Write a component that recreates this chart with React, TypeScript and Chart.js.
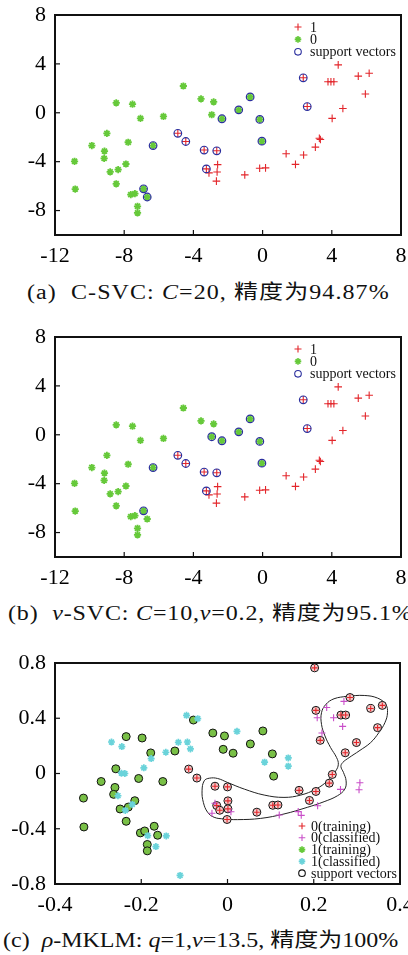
import React, { useEffect, useRef } from 'react';
import { Chart, registerables } from 'chart.js';

Chart.register(...registerables);

const SERIF = '"Liberation Serif", "Times New Roman", Tinos, serif';
const CAPTION_FONT = '"Liberation Serif", "Times New Roman", "Noto Sans CJK SC", serif';

// ---------------- panels (a) and (b) ----------------
const xTicksAB = [-12, -8, -4, 0, 4, 8];
const yTicksAB = [-8, -4, 0, 4, 8];
const xRangeAB = [-12, 8];
const yRangeAB = [-10, 8];

// class "1" (red +), not support vectors
const class1Plain = [
  [4.37, 3.92], [3.78, 2.54], [3.95, 2.54], [4.12, 2.54], [5.53, 3.0], [6.16, 3.24],
  [5.94, 1.54], [4.64, 0.35], [4.02, -0.46], [3.28, -2.08], [3.34, -2.19], [3.05, -2.81],
  [1.36, -3.35], [2.37, -3.46], [1.9, -4.22], [-0.17, -4.54], [0.17, -4.51], [-1.03, -5.08],
  [-2.6, -4.24], [-3.1, -4.92], [-2.63, -4.84], [-2.67, -5.59],
];
// class "1" support vectors
const class1SV = [
  [2.35, 2.86], [2.58, 0.51], [-4.9, -1.68], [-4.44, -2.35], [-3.38, -3.05], [-2.65, -3.11], [-3.25, -4.59],
];
// class "0" (green *), panel (a)
const class0PlainA = [
  [-4.58, 2.19], [-3.56, 1.14], [-2.83, 0.89], [-8.46, 0.81], [-7.52, 0.7], [-2.94, -0.16],
  [-7.06, -0.46], [-5.73, -0.3], [-9.0, -1.68], [-7.77, -2.41], [-9.87, -2.68], [-9.14, -3.14],
  [-9.16, -3.73], [-10.87, -3.97], [-7.9, -4.19], [-8.35, -4.65], [-8.81, -4.84], [-8.46, -5.81],
  [-10.83, -6.24], [-7.62, -6.7], [-7.38, -6.62], [-7.23, -7.65], [-7.23, -8.19],
];
const class0SVA = [
  [-6.33, -2.68], [-2.35, -0.49], [-6.88, -6.22], [-6.67, -6.89],
  [-0.72, 1.3], [-1.38, 0.24], [-0.16, -0.54], [-0.04, -2.32],
];
// class "0" (green *), panel (b)
const class0PlainB = [
  [-4.58, 2.19], [-3.56, 1.14], [-2.83, 0.89], [-8.46, 0.81], [-7.52, 0.7], [-6.67, -6.89],
  [-7.06, -0.46], [-5.73, -0.3], [-9.0, -1.68], [-7.77, -2.41], [-9.87, -2.68], [-9.14, -3.14],
  [-9.16, -3.73], [-10.87, -3.97], [-7.9, -4.19], [-8.35, -4.65], [-8.81, -4.84], [-8.46, -5.81],
  [-10.83, -6.24], [-7.62, -6.7], [-7.38, -6.62], [-7.23, -7.65], [-7.23, -8.19],
];
const class0SVB = [
  [-6.33, -2.68], [-2.35, -0.49], [-6.88, -6.22], [-2.94, -0.16],
  [-0.72, 1.3], [-1.38, 0.24], [-0.16, -0.54], [-0.04, -2.32],
];
const legendAB = ['1', '0', 'support vectors'];

// ---------------- panel (c) ----------------
const xTicksC = [-0.4, -0.2, 0, 0.2, 0.4];
const yTicksC = [-0.8, -0.4, 0, 0.4, 0.8];
const xRangeC = [-0.4, 0.4];
const yRangeC = [-0.8, 0.8];

const train0 = [
  [-0.09, 0.032], [-0.071, -0.033], [-0.029, -0.092], [0.0, -0.097], [0.001, -0.198],
  [-0.025, -0.232], [-0.018, -0.266], [0.001, -0.256], [-0.001, -0.333], [0.068, -0.28],
  [0.105, -0.23], [0.117, -0.228], [0.166, -0.122], [0.19, -0.195], [0.205, -0.13],
  [0.236, -0.07], [0.243, -0.007], [0.273, 0.15], [0.202, 0.765], [0.284, 0.55],
  [0.359, 0.493], [0.332, 0.471], [0.205, 0.457], [0.263, 0.423], [0.274, 0.423],
  [0.348, 0.332], [0.215, 0.24], [0.299, 0.224],
];
const classified0 = [
  [-0.029, -0.215], [-0.036, -0.288], [0.008, -0.277], [0.12, -0.3], [0.164, -0.276],
  [0.171, -0.303], [0.209, -0.233], [0.262, -0.115], [0.307, -0.067], [0.305, -0.118],
  [0.23, 0.478], [0.27, 0.522], [0.208, 0.404], [0.246, 0.404], [0.267, 0.341], [0.219, 0.293],
];
const train1 = [
  [-0.079, 0.387], [-0.034, 0.293], [-0.007, 0.272], [-0.01, 0.175], [-0.235, 0.267],
  [-0.198, 0.257], [-0.178, 0.149], [-0.122, 0.163], [-0.259, 0.034], [-0.206, -0.036],
  [-0.293, -0.058], [-0.261, -0.101], [-0.15, -0.058], [-0.264, -0.151], [-0.334, -0.178],
  [-0.215, -0.197], [-0.23, -0.243], [-0.249, -0.257], [-0.235, -0.346], [-0.333, -0.387],
  [-0.17, -0.382], [-0.202, -0.43], [-0.192, -0.416], [-0.162, -0.447], [-0.186, -0.514],
  [-0.186, -0.56], [0.082, 0.308], [0.053, 0.214], [0.013, 0.147], [0.104, 0.142], [0.107, -0.019],
];
const classified1 = [
  [-0.095, 0.421], [-0.069, 0.397], [-0.269, 0.228], [-0.245, 0.195], [-0.114, 0.226],
  [-0.093, 0.228], [-0.086, 0.178], [-0.143, 0.154], [-0.177, 0.108], [-0.194, 0.041],
  [-0.246, 0.002], [-0.238, 0.0], [-0.254, -0.161], [-0.221, -0.224], [-0.237, -0.267],
  [-0.185, -0.45], [-0.142, -0.452], [-0.166, -0.529], [-0.11, -0.738], [0.022, 0.305],
  [0.141, 0.113], [0.086, 0.082], [0.141, 0.053],
];
// decision boundary (closed curve)
const boundary = [
  [0.278, 0.56], [0.317, 0.565], [0.348, 0.546], [0.367, 0.5], [0.371, 0.44], [0.365, 0.368],
  [0.351, 0.296], [0.332, 0.224], [0.305, 0.163], [0.282, 0.115], [0.267, 0.079], [0.263, 0.05],
  [0.269, 0.007], [0.275, -0.053], [0.272, -0.113], [0.255, -0.161], [0.224, -0.204],
  [0.185, -0.245], [0.131, -0.293], [0.077, -0.325], [0.023, -0.334], [-0.008, -0.329],
  [-0.031, -0.317], [-0.046, -0.281], [-0.056, -0.209], [-0.059, -0.125], [-0.054, -0.053],
  [-0.042, -0.034], [-0.023, -0.036], [0.0, -0.065], [0.039, -0.113], [0.085, -0.156],
  [0.131, -0.173], [0.17, -0.156], [0.205, -0.113], [0.232, -0.053], [0.251, 0.019],
  [0.257, 0.067], [0.253, 0.115], [0.239, 0.188], [0.226, 0.272], [0.218, 0.356],
  [0.218, 0.44], [0.228, 0.5], [0.247, 0.541], [0.278, 0.56],
];
const legendC = ['0(training)', '0(classified)', '1(training)', '1(classified)', 'support vectors'];

// ---------------- colours ----------------
const RED = '#e3262b';
const GREEN = '#66c93a';
const BLUE = '#2b2f9e';
const MAGENTA = '#c94fc9';
const CYAN = '#6ad3da';
const GREEN_C = '#79c046';

const P = (arr: number[][]) => arr.map(([x, y]) => ({ x, y }));

function drawSym(ctx: CanvasRenderingContext2D, style: string, x: number, y: number, r: number, color: string, lw: number) {
  ctx.beginPath();
  ctx.strokeStyle = color;
  ctx.lineWidth = lw;
  if (style === 'cross' || style === 'star') {
    ctx.moveTo(x - r, y); ctx.lineTo(x + r, y);
    ctx.moveTo(x, y - r); ctx.lineTo(x, y + r);
  }
  if (style === 'star') {
    const d = r * 0.707;
    ctx.moveTo(x - d, y - d); ctx.lineTo(x + d, y + d);
    ctx.moveTo(x - d, y + d); ctx.lineTo(x + d, y - d);
  }
  if (style === 'circle') {
    ctx.arc(x, y, r, 0, Math.PI * 2);
  }
  ctx.stroke();
}

const framePlugin = {
  id: 'frameTicks',
  afterDatasetsDraw(chart: any, _args: any, opts: any) {
    const { ctx, chartArea: a, scales } = chart;
    ctx.save();
    const lg = opts.legend;
    if (lg) {
      const left = a.right - 1 - lg.w;
      const top = lg.fromBottom ? a.bottom - 1 - lg.h : a.top + 1;
      ctx.fillStyle = '#fff';
      ctx.fillRect(left, top, lg.w, lg.h);
      ctx.font = `${lg.size}px ${SERIF}`;
      ctx.textBaseline = 'middle';
      ctx.textAlign = 'left';
      lg.labels.forEach((label: string, i: number) => {
        const s = lg.symbols[i];
        const y = top + lg.first + i * lg.row;
        drawSym(ctx, s.style, left + lg.symX, y, s.r, s.color, s.lw);
        ctx.fillStyle = '#111';
        ctx.fillText(label, left + lg.textX, y + 1);
      });
    }
    ctx.strokeStyle = '#111';
    ctx.lineWidth = 2;
    ctx.strokeRect(a.left, a.top, a.right - a.left, a.bottom - a.top);
    ctx.lineWidth = 1.2;
    scales.x.ticks.forEach((t: any) => {
      const px = scales.x.getPixelForValue(t.value);
      ctx.beginPath(); ctx.moveTo(px, a.bottom); ctx.lineTo(px, a.bottom - 5); ctx.stroke();
    });
    scales.y.ticks.forEach((t: any) => {
      const py = scales.y.getPixelForValue(t.value);
      ctx.beginPath(); ctx.moveTo(a.left, py); ctx.lineTo(a.left + 5, py); ctx.stroke();
    });
    ctx.restore();
  },
};

function scaleCfg(range: number[], tickVals: number[], axis: 'x' | 'y') {
  return {
    type: 'linear',
    min: range[0],
    max: range[1],
    grid: { display: false, drawTicks: false },
    border: { display: false },
    ticks: {
      color: '#000',
      font: { family: SERIF, size: 22 },
      padding: axis === 'x' ? 8 : 9,
      maxRotation: 0,
      autoSkip: false,
      callback: (v: number) => String(v),
    },
    afterBuildTicks: (s: any) => { s.ticks = tickVals.map((v) => ({ value: v })); },
    afterFit: (s: any) => {
      if (axis === 'x') s.height = 35; else s.width = 55;
      s.paddingLeft = 0; s.paddingRight = 0; s.paddingTop = 0; s.paddingBottom = 0;
    },
  };
}

function makeConfig(datasets: any[], xr: number[], yr: number[], xt: number[], yt: number[], legend: any, rightPad: number) {
  return {
    type: 'scatter',
    data: { datasets },
    options: {
      animation: false,
      responsive: false,
      events: [],
      layout: { padding: { top: 15, right: rightPad, left: 0, bottom: 0 } },
      scales: { x: scaleCfg(xr, xt, 'x'), y: scaleCfg(yr, yt, 'y') },
      plugins: { legend: { display: false }, tooltip: { enabled: false }, frameTicks: { legend } },
    },
    plugins: [framePlugin],
  };
}

function pts(data: number[][], style: string, color: string, r: number, lw: number, order: number, fill = 'rgba(0,0,0,0)') {
  return {
    data: P(data), pointStyle: style, pointRadius: r, pointBorderColor: color, borderColor: color,
    pointBackgroundColor: fill, backgroundColor: fill, pointBorderWidth: lw, borderWidth: lw, order,
  };
}

function svcDatasets(plain1: number[][], sv1: number[][], plain0: number[][], sv0: number[][]) {
  return [
    pts([...sv1, ...sv0], 'circle', BLUE, 3.8, 1.2, 0),
    pts([...plain1, ...sv1], 'cross', RED, 3.8, 1.1, 1),
    pts([...plain0, ...sv0], 'star', GREEN, 3.6, 1.8, 1),
  ];
}

const legendABCfg = {
  labels: legendAB, w: 118, h: 45, fromBottom: false, first: 11, row: 12.4, symX: 16, textX: 28, size: 14,
  symbols: [
    { style: 'cross', r: 3.5, color: RED, lw: 1.1 },
    { style: 'star', r: 3.3, color: GREEN, lw: 1.6 },
    { style: 'circle', r: 3.3, color: BLUE, lw: 1.1 },
  ],
};
const legendCCfg = {
  labels: legendC, w: 104, h: 64, fromBottom: true, first: 7, row: 11.8, symX: 7, textX: 16, size: 14,
  symbols: [
    { style: 'cross', r: 3.3, color: RED, lw: 1.1 },
    { style: 'cross', r: 3.3, color: MAGENTA, lw: 1.1 },
    { style: 'star', r: 3.3, color: GREEN, lw: 1.6 },
    { style: 'star', r: 3.3, color: CYAN, lw: 1.6 },
    { style: 'circle', r: 3.3, color: '#111', lw: 1.1 },
  ],
};

function Panel({ top, height, config }: { top: number; height: number; config: () => any }) {
  const ref = useRef<HTMLCanvasElement | null>(null);
  useEffect(() => {
    if (!ref.current) return;
    const chart = new Chart(ref.current, config());
    return () => chart.destroy();
  }, []);
  return <canvas ref={ref} width={408} height={height} style={{ position: 'absolute', left: 0, top, width: 408, height }} />;
}

const capStyle = (top: number, left: number, spacing: number): React.CSSProperties => ({
  position: 'absolute', left, top, fontFamily: CAPTION_FONT, fontSize: 20, lineHeight: '22px',
  letterSpacing: `${spacing}px`, whiteSpace: 'nowrap', color: '#111',
  transform: 'scaleX(1.2)', transformOrigin: 'left center',
});

export default function App() {
  return (
    <div style={{ position: 'absolute', left: 0, top: 0, width: 408, height: 955, background: '#fff', overflow: 'hidden' }}>
      <Panel top={0} height={270} config={() => makeConfig(svcDatasets(class1Plain, class1SV, class0PlainA, class0SVA), xRangeAB, yRangeAB, xTicksAB, yTicksAB, legendABCfg, 7)} />
      <div style={capStyle(281, 27, 0.9)}>(a)&nbsp; C-SVC: <i>C</i>=20, 精度为94.87%</div>
      <Panel top={322} height={270} config={() => makeConfig(svcDatasets(class1Plain, class1SV, class0PlainB, class0SVB), xRangeAB, yRangeAB, xTicksAB, yTicksAB, legendABCfg, 7)} />
      <div style={capStyle(602, 8, 0.7)}>(b)&nbsp; <i>v</i>-SVC: <i>C</i>=10,<i>v</i>=0.2, 精度为95.1%</div>
      <Panel top={648} height={271} config={() => makeConfig([
        { data: P(boundary), showLine: true, tension: 0.4, pointRadius: 0, borderColor: '#222', borderWidth: 1, fill: false, order: 5 },
        pts(train0, 'circle', '#111', 4, 1, 3, '#f3cccc'),
        pts(train0, 'cross', RED, 3, 1.1, 2),
        pts(classified0, 'cross', MAGENTA, 3.5, 1.1, 2),
        pts(train1, 'circle', '#111', 4, 1, 3, GREEN_C),
        pts(classified1, 'star', CYAN, 3.5, 1.7, 2),
      ], xRangeC, yRangeC, xTicksC, yTicksC, legendCCfg, 8)} />
      <div style={capStyle(929, 3, 0)}>(c)&nbsp; <i>ρ</i>-MKLM: <i>q</i>=1,<i>v</i>=13.5, 精度为100%</div>
    </div>
  );
}
